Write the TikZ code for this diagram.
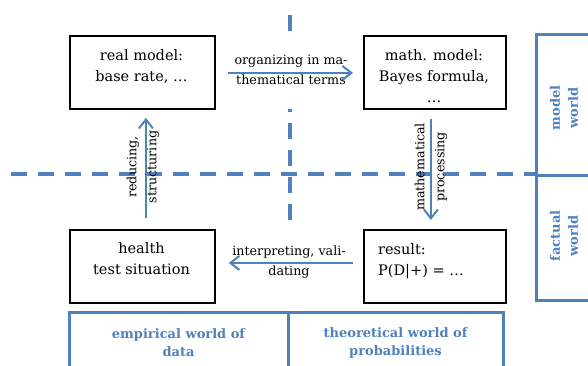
\documentclass[tikz,border=0pt]{standalone}
\usepackage{fontspec}
\setmainfont{DejaVu Serif}
\usetikzlibrary{arrows.meta}
\definecolor{ofblue}{RGB}{79,129,189}
\begin{document}
\begin{tikzpicture}[x=1pt,y=-1pt,
  modelbox/.style={draw=black, line width=1.8pt, fill=white, anchor=north west, inner sep=0pt, minimum height=73pt},
  boxtext/.style={font=\fontsize{14.5}{21}\selectfont, align=center, inner sep=0pt, anchor=base},
  lbl/.style={font=\fontsize{12.7}{20}\selectfont, align=center, inner sep=0pt},
  worldbox/.style={draw=ofblue, line width=3pt, fill=white},
  worldtext/.style={font=\fontsize{13}{18}\selectfont\bfseries, text=ofblue, align=center, inner sep=0pt},
  divider/.style={draw=ofblue, line width=3.5pt, dash pattern=on 15.5pt off 11.5pt},
  flow/.style={draw=ofblue, line width=2pt, -{Straight Barb[length=9pt,width=14pt,line width=2pt]}}
]
\useasboundingbox (0,0) rectangle (588,365);
\clip (0,0) rectangle (588,365);
\fill[white] (0,0) rectangle (588,365);

% dashed dividers
\coordinate (vtop) at (290,15);
\coordinate (vbot) at (290,300);
\coordinate (hleft) at (11,174);
\coordinate (hright) at (588,174);
\draw[divider] (vtop) -- (vbot);
\draw[divider] (hleft) -- (hright);

% labels of horizontal arrows (white text boxes)
\node[lbl, fill=white, minimum width=128pt, minimum height=78pt] (orglbl) at (291,70)
  {organizing in ma-\\thematical terms};
\node[lbl, fill=white, minimum width=128pt, minimum height=80pt] (intlbl) at (289,262)
  {interpreting, vali-\\dating};

% model boxes
\node[modelbox, minimum width=145pt] (real) at (69,35) {};
\node[modelbox, minimum width=142pt] (math) at (363,35) {};
\node[modelbox, minimum width=145pt] (health) at (69,229) {};
\node[modelbox, minimum width=142pt] (result) at (363,229) {};

\node[boxtext] (realtxt) at (141.5,81.5) {real model:\\base rate, \dots};
\node[boxtext] (mathtxt) at (434,102) {math. model:\\Bayes formula,\\\dots};
\node[boxtext] (healthtxt) at (141.5,274) {health\\test situation};
\node[boxtext, align=left, anchor=base west] (resulttxt) at (378,275) {result:\\P(D|+) = \dots};

% vertical labels
\node[lbl, rotate=90] (redlbl) at (143,167) {reducing,\\structuring};
\node[lbl, rotate=90] (mplbl) at (431,167) {mathematical\\processing};

% world boxes (right)
\draw[worldbox] (536,34) rectangle (600,175);
\draw[worldbox] (536,175) rectangle (600,300);
\node[worldtext, rotate=90] (modelw) at (564,108) {model\\world};
\node[worldtext, rotate=90] (factw) at (564,236) {factual\\world};

% world boxes (bottom)
\draw[worldbox] (69,312) rectangle (288,380);
\draw[worldbox] (288,312) rectangle (503,380);
\node[worldtext] (empw) at (178.5,343) {empirical world of\\data};
\node[worldtext] (theow) at (395.5,343) {theoretical world of\\probabilities};

% arrows
\draw[flow, shorten <=12pt, shorten >=10pt] ([yshift=-0.5pt]real.east) -- ([yshift=-0.5pt]math.west);
\draw[flow, shorten <=9pt, shorten >=9pt] ([xshift=-4pt]math.south) -- ([xshift=-4pt]result.north);
\draw[flow, shorten <=10pt, shorten >=13pt] ([yshift=3.5pt]result.west) -- ([yshift=3.5pt]health.east);
\draw[flow, shorten <=11pt, shorten >=8pt] ([xshift=3.5pt]health.north) -- ([xshift=3.5pt]real.south);
\end{tikzpicture}
\end{document}
